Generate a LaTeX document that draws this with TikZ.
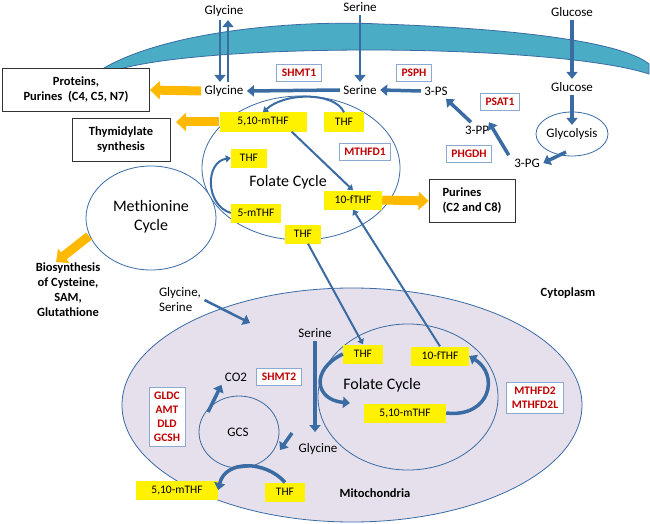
\documentclass[tikz,border=0pt]{standalone}
\usepackage{fontspec}
\setmainfont{Carlito}
\usetikzlibrary{arrows.meta,positioning}
\definecolor{memb}{HTML}{4BACC6}
\definecolor{flow}{HTML}{3A6BA3}
\definecolor{orng}{HTML}{FFB900}
\definecolor{mito}{HTML}{E5E0EC}
\definecolor{enzb}{HTML}{8EA9D0}
\definecolor{enzt}{HTML}{C00000}
\tikzset{
  fol/.style={fill=yellow, inner sep=3pt, font=\fontsize{11.5}{13}\selectfont, minimum height=19pt},
  enz/.style={draw=enzb, thick, fill=white, text=enzt, font=\fontsize{11.5}{14}\selectfont\bfseries, inner sep=5pt, align=center},
  outbox/.style={draw=black!80, thick, fill=white, font=\fontsize{12.5}{15}\selectfont\bfseries, align=center},
  met/.style={font=\fontsize{13}{15}\selectfont},
  big/.style={font=\fontsize{16}{19}\selectfont, align=center},
  cyc/.style={draw=flow, thick},
  fat/.style={flow, line width=3.5pt, -{Triangle[length=7pt,width=11pt]}},
  thin/.style={flow, line width=2pt, -{Triangle[length=5pt,width=7pt]}},
  sink/.style={orng, line width=9pt, -{Triangle[length=10pt,width=18pt]}}
}
\begin{document}
\begin{tikzpicture}[x=1pt,y=-1pt]
\useasboundingbox (0,0) rectangle (650,524);
% membrane
\fill[memb, draw=flow, thick] (104,68) .. controls (170,30) and (300,20) .. (380,24)
  .. controls (500,28) and (620,40) .. (649,64) -- (649,74)
  .. controls (600,58) and (480,50) .. (370,50) .. controls (250,50) and (150,58) .. (110,72) -- cycle;
% mitochondrion
\draw[flow, thick, fill=mito] (352,405) ellipse [x radius=230, y radius=117];
% cycles
\draw[cyc] (301,168) ellipse [x radius=99, y radius=72];
\draw[cyc, fill=white] (151,218) ellipse [x radius=65, y radius=52];
\draw[cyc] (408,397) ellipse [x radius=90, y radius=73];
\draw[cyc] (239,432) ellipse [x radius=40, y radius=36];
\draw[cyc, fill=white] (572,134) ellipse [x radius=36, y radius=22];
% metabolites
\node (glyout) [met] at (224,11) {Glycine};
\node (serout) [met] at (360,7) {Serine};
\node (gluout) [met] at (572,12) {Glucose};
\node (gly) [met] at (224,91) {Glycine};
\node (ser) [met] at (360,90) {Serine};
\node (glu) [met] at (572,87) {Glucose};
\node (ps) [met] at (436,91) {3-PS};
\node (pp) [met] at (477,130) {3-PP};
\node (pg) [met] at (527,163) {3-PG};
\node (glyc) [met] at (572,134) {Glycolysis};
\node (fc1) [big] at (288,182) {Folate Cycle};
\node (mc) [big] at (151,217) {Methionine\\ Cycle};
\node (glyser) [met, align=left] at (180,300) {Glycine,\\ Serine};
\node (cyto) [outbox, draw=none, fill=none] at (568,293) {Cytoplasm};
\node (mch) [outbox, draw=none, fill=none] at (375,493) {Mitochondria};
\node (mser) [met] at (315,333) {Serine};
\node (mgly) [met] at (318,449) {Glycine};
\node (co2) [met] at (236,377) {CO2};
\node (gcs) [met] at (238,432) {GCS};
\node (fc2) [big] at (382,385) {Folate Cycle};
% enzymes
\node (shmt1) [enz] at (299,73) {SHMT1};
\node (psph) [enz] at (414,73) {PSPH};
\node (psat1) [enz] at (500,102) {PSAT1};
\node (phgdh) [enz] at (469,154) {PHGDH};
\node (mthfd1) [enz] at (365,152) {MTHFD1};
\node (shmt2) [enz] at (279,377) {SHMT2};
\node (gcsenz) [enz] at (167,417) {GLDC\\ AMT\\ DLD\\ GCSH};
\node (mthfd2) [enz] at (535,398) {MTHFD2\\ MTHFD2L};
% folates
\node (mthf1) [fol, minimum width=87pt] at (263,122) {5,10-mTHF};
\node (thf1) [fol, minimum width=40pt] at (344,122) {THF};
\node (thf2) [fol, minimum width=36pt] at (249,158) {THF};
\node (fthf1) [fol, minimum width=58pt] at (353,200) {10-fTHF};
\node (fmthf) [fol, minimum width=50pt] at (256,213) {5-mTHF};
\node (thf3) [fol, minimum width=36pt] at (303,234) {THF};
\node (thf4) [fol, minimum width=40pt] at (363,354) {THF};
\node (fthf2) [fol, minimum width=58pt] at (440,356) {10-fTHF};
\node (mthf2) [fol, minimum width=82pt] at (405,413) {5,10-mTHF};
\node (mthf3) [fol, minimum width=82pt] at (177,490) {5,10-mTHF};
\node (thf5) [fol, minimum width=40pt] at (285,492) {THF};
% sinks
\node (prot) [outbox, minimum width=147pt, minimum height=43pt] at (76,90) {Proteins,\\ Purines\ \ (C4, C5, N7)};
\node (thym) [outbox, minimum width=98pt, minimum height=43pt] at (121,140) {Thymidylate\\ synthesis};
\node (pur) [outbox, minimum width=86pt, minimum height=43pt, align=left] at (472,201) {Purines\\ (C2 and C8)};
\node (bio) [outbox, draw=none, fill=none] at (68,290) {Biosynthesis\\ of Cysteine,\\ SAM,\\ Glutathione};
% transport
\draw[fat, line width=2.5pt] ([xshift=-4pt]glyout.south) -- ([xshift=-4pt]gly.north);
\draw[fat, line width=2.5pt] ([xshift=4pt]gly.north) -- ([xshift=4pt]glyout.south);
\draw[fat, line width=2.5pt] (serout) -- (ser);
\draw[fat] (gluout) -- (glu);
\draw[fat] (glu) -- (glyc);
\draw[fat] (566,152) -- (pg.east);
\draw[fat] ([xshift=-2pt]pg.north west) -- ([xshift=12pt]pp.north);
\draw[fat] ([xshift=-6pt]pp.north) -- ([xshift=10pt]ps.south);
\draw[fat] (ps.west) -- (ser.east);
\draw[fat] (ser.west) -- (gly.east);
% folate reactions
\draw[thin] (thf1.north) .. controls (335,92) and (285,92) .. (mthf1.north);
\draw[thin] (fmthf.west) .. controls (205,205) and (205,162) .. (thf2.west);
\draw[thin] ([xshift=-15pt]mthf1.south east) -- (fthf1.north);
\draw[thin] ([xshift=5pt]thf3.south) -- (thf4.north);
\draw[thin] (fthf2.north) -- (fthf1.south);
\draw[fat, line width=2.5pt] (glyser.east) -- (250,323);
\draw[fat] (mser.south) -- (315,432);
\draw[fat] (292,433) -- (280,450);
\draw[fat] (thf4.west) .. controls (310,370) and (315,400) .. (350,403);
\draw[fat] (mthf2.east) .. controls (490,418) and (500,375) .. (fthf2.east);
\draw[fat] (208,412) -- (co2.south west);
\draw[fat] (thf5.north) .. controls (265,460) and (225,460) .. (mthf3.east);
% outputs
\draw[sink] (gly.west) -- (prot.east);
\draw[sink] (mthf1.west) -- (176,122);
\draw[sink] (fthf1.east) -- (pur.west);
\draw[sink] (89,236) -- (56,262);
\end{tikzpicture}
\end{document}
